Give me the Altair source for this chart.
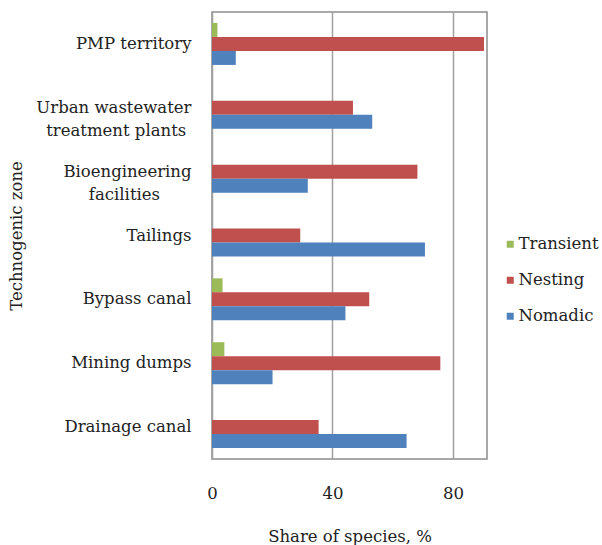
import json
import altair as alt
import pandas as pd

# Technogenic zones, top to bottom
zones = [
    "PMP territory",
    "Urban wastewater treatment plants",
    "Bioengineering facilities",
    "Tailings",
    "Bypass canal",
    "Mining dumps",
    "Drainage canal",
]
# Axis label lines; trailing non-breaking spaces (closed by a zero-width space so
# they survive trimming) keep the second line centred under the first
zone_lines = [
    ["PMP territory"],
    ["Urban wastewater", "treatment plants\u00a0\u200b"],
    ["Bioengineering", "facilities" + "\u00a0" * 6 + "\u200b"],
    ["Tailings"],
    ["Bypass canal"],
    ["Mining dumps"],
    ["Drainage canal"],
]

groups = ["Transient", "Nesting", "Nomadic"]
transient = [1.8, 0.0, 0.0, 0.0, 3.5, 4.1, 0.0]
nesting = [90.3, 46.8, 68.2, 29.3, 52.2, 75.8, 35.4]
nomadic = [7.9, 53.2, 31.8, 70.7, 44.3, 20.1, 64.6]
colors = ["#9BBB59", "#C0504D", "#4F81BD"]

x_ticks = [0, 40, 80]

rows = []
for series, values in zip(groups, [transient, nesting, nomadic]):
    for zone, v in zip(zones, values):
        rows.append({"zone": zone, "group": series, "share": v})
df = pd.DataFrame(rows)

label_expr = ""
for zone, lines in zip(zones, zone_lines):
    label_expr += f"datum.value === {json.dumps(zone)} ? {json.dumps(lines, ensure_ascii=False)} : "
label_expr += "datum.label"

font = "DejaVu Serif"
fs = 16.5

chart = (
    alt.Chart(df)
    .mark_bar()
    .encode(
        x=alt.X(
            "share:Q",
            scale=alt.Scale(domain=[0, 91.3], nice=False, zero=True),
            axis=alt.Axis(
                values=x_ticks,
                title="Share of species, %",
                grid=True,
                gridColor="#A0A0A0",
                gridWidth=1.5,
                domain=False,
                ticks=False,
                tickSize=0,
                labelFlush=False,
                labelFontSize=fs,
                labelPadding=26,
                labelColor="#222222",
                titleFontSize=fs,
                titleFontWeight="normal",
                titleColor="#222222",
                titlePadding=27,
            ),
        ),
        y=alt.Y(
            "zone:N",
            sort=zones,
            scale=alt.Scale(paddingInner=0.342, paddingOuter=0.171),
            axis=alt.Axis(
                title="Technogenic zone",
                labelExpr=label_expr,
                labelFontSize=fs,
                labelLineHeight=23,
                labelPadding=21,
                labelColor="#222222",
                labelLimit=300,
                domain=False,
                ticks=False,
                tickSize=0,
                grid=False,
                titleFontSize=fs,
                titleFontWeight="normal",
                titleColor="#222222",
                titleAngle=-90,
                titleAlign="center",
                titleBaseline="middle",
                titleX=-196,
                titleY=223.5,
            ),
        ),
        yOffset=alt.YOffset(
            "group:N", sort=groups, scale=alt.Scale(paddingInner=0, paddingOuter=0)
        ),
        color=alt.Color(
            "group:N",
            sort=groups,
            scale=alt.Scale(domain=groups, range=colors),
            legend=alt.Legend(
                title=None,
                orient="none",
                legendX=290,
                legendY=224,
                symbolType="square",
                symbolSize=49,
                symbolStrokeWidth=0,
                labelFontSize=fs,
                labelColor="#222222",
                labelOffset=0,
                rowPadding=19,
                padding=0,
            ),
        ),
    )
    .properties(
        width=275,
        height=447,
        autosize=alt.AutoSizeParams(type="none"),
        padding={"left": 212, "top": 12, "right": 115, "bottom": 86},
    )
    .configure(font=font)
    .configure_view(stroke="#8C8C8C", strokeWidth=1.5)
)

chart.save("out.html", embed_options={"renderer": "svg", "actions": False})
